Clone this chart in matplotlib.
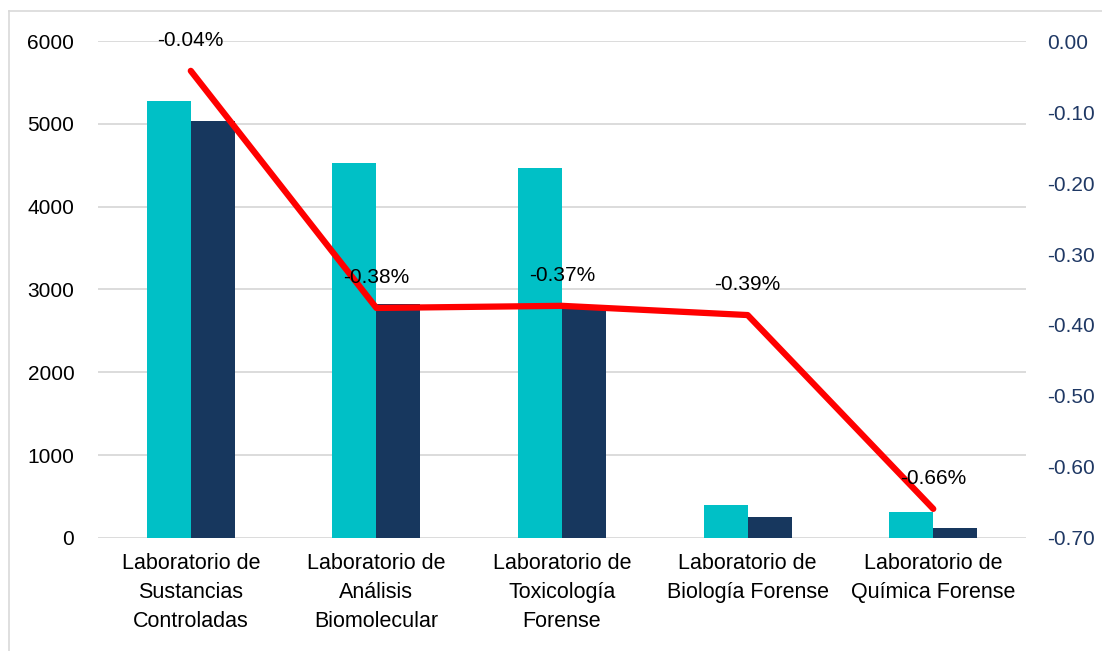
import matplotlib
matplotlib.use("Agg")
import matplotlib.pyplot as plt
import numpy as np
from matplotlib.lines import Line2D

categories = ['Laboratorio de\nSustancias\nControladas',
              'Laboratorio de\nAnálisis\nBiomolecular',
              'Laboratorio de\nToxicología\nForense',
              'Laboratorio de\nBiología Forense',
              'Laboratorio de\nQuímica Forense']
serie_a = [5270, 4525, 4465, 400, 315]
serie_b = [5030, 2825, 2815, 255, 120]
variacion = [-0.042, -0.376, -0.373, -0.386, -0.659]
etiquetas = ['-0.04%', '-0.38%', '-0.37%', '-0.39%', '-0.66%']

plt.rcParams['font.family'] = ['Liberation Sans', 'DejaVu Sans']

fig = plt.figure(figsize=(11.02, 6.51), dpi=100)
ax = fig.add_axes([0.0889, 0.1736, 0.8422, 0.7634])

x = np.arange(len(categories))
w = 0.237
ax.bar(x - w / 2, serie_a, w, color='#00C0C6', zorder=2)
ax.bar(x + w / 2, serie_b, w, color='#17375E', zorder=2)

ax.set_xlim(-0.5, len(categories) - 0.5)
ax.set_ylim(0, 6000)
ax.set_yticks(range(0, 6001, 1000))
ax.grid(axis='y', color='#D9D9D9', linewidth=1.3, zorder=0)
ax.set_axisbelow(True)
for s in ax.spines.values():
    s.set_visible(False)
ax.tick_params(length=0, labelsize=15, pad=17)
ax.tick_params(axis='x', pad=11)
ax.set_xticks(x)
ax.set_xticklabels(categories, fontsize=15.5, linespacing=1.5)

ax2 = ax.twinx()
ax2.set_ylim(-0.70, 0.0)
ax2.set_yticks(np.arange(-0.7, 0.001, 0.1))
ax2.yaxis.set_major_formatter(plt.FuncFormatter(lambda v, p: f'{v:.2f}'.replace('-0.00', '0.00')))
for s in ax2.spines.values():
    s.set_visible(False)
ax2.tick_params(length=0, labelsize=15, labelcolor='#1F3864', pad=15)
ax2.plot(x, variacion, color='#FF0000', linewidth=4.5, solid_capstyle='round', zorder=3)
for xi, v, t in zip(x, variacion, etiquetas):
    ax2.annotate(t, (xi, v), xytext=(0, 22), textcoords='offset points',
                 ha='center', va='center', fontsize=15)

# marco del gráfico
fig.add_artist(Line2D([9 / 1102, 9 / 1102], [0, 1 - 11 / 651], transform=fig.transFigure,
                      color='#D9D9D9', linewidth=1.2))
fig.add_artist(Line2D([9 / 1102, 1], [1 - 11 / 651, 1 - 11 / 651], transform=fig.transFigure,
                      color='#D9D9D9', linewidth=1.2))

fig.savefig('out.png', dpi=100)
